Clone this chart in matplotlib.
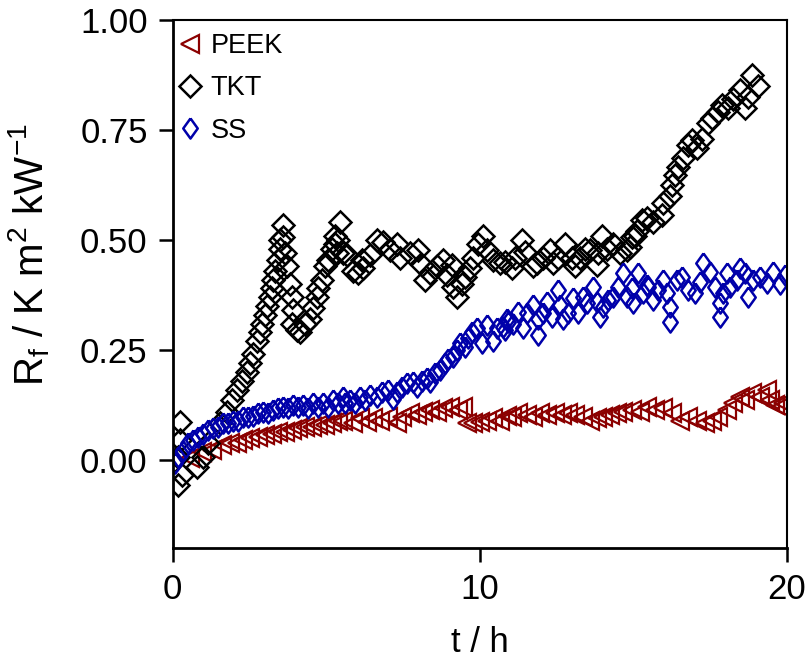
import matplotlib
matplotlib.use("Agg")
import matplotlib.pyplot as plt

plt.rcParams['font.family'] = ['Liberation Sans', 'DejaVu Sans']
plt.rcParams['mathtext.fontset'] = 'custom'
plt.rcParams['mathtext.rm'] = 'Liberation Sans'
plt.rcParams['mathtext.it'] = 'Liberation Sans'
plt.rcParams['mathtext.default'] = 'regular'

# PEEK (left triangles)
peek_t = [0.55, 0.95, 1.27, 1.60, 1.86, 2.08, 2.28, 2.51, 2.77, 3.00,
          3.22, 3.42, 3.65, 3.88, 4.07, 4.30, 4.53, 4.72, 4.95, 5.18,
          5.37, 5.54, 5.86, 6.09, 6.32, 6.51, 6.74, 7.00, 7.30, 7.46,
          7.72, 7.95, 8.14, 8.37, 8.60, 8.79, 9.02, 9.28, 9.45, 9.58,
          9.77, 10.00, 10.23, 10.42, 10.65, 10.88, 11.04, 11.24, 11.53, 11.73,
          11.95, 12.18, 12.44, 12.67, 12.87, 13.09, 13.36, 13.58, 13.81, 14.01,
          14.23, 14.46, 14.66, 14.95, 15.21, 15.44, 15.70, 15.96, 16.25, 16.51,
          16.78, 17.07, 17.33, 17.56, 17.75, 18.05, 18.24, 18.47, 18.63, 18.86,
          19.12, 19.35, 19.45, 19.61, 19.77, 19.87]
peek_y = [0.005, 0.018, 0.023, 0.034, 0.040, 0.038, 0.045, 0.050, 0.052, 0.057,
          0.060, 0.064, 0.064, 0.068, 0.073, 0.075, 0.075, 0.080, 0.080, 0.084,
          0.090, 0.090, 0.084, 0.095, 0.086, 0.095, 0.090, 0.098, 0.084, 0.098,
          0.107, 0.102, 0.109, 0.114, 0.109, 0.118, 0.120, 0.114, 0.120, 0.084,
          0.084, 0.086, 0.090, 0.095, 0.090, 0.100, 0.098, 0.107, 0.102, 0.098,
          0.107, 0.102, 0.107, 0.102, 0.107, 0.102, 0.098, 0.090, 0.095, 0.098,
          0.102, 0.107, 0.109, 0.114, 0.110, 0.120, 0.114, 0.118, 0.107, 0.090,
          0.098, 0.090, 0.084, 0.090, 0.098, 0.114, 0.130, 0.143, 0.136, 0.152,
          0.143, 0.159, 0.136, 0.125, 0.120, 0.130]

# TKT (diamonds)
tkt_t = [0.16, 0.29, 0.23, 0.16, 0.23, 0.78, 0.98, 1.14, 1.53, 1.76,
         1.92, 2.08, 2.25, 2.41, 2.51, 2.61, 2.74, 2.83, 2.90, 3.00,
         3.06, 3.16, 3.22, 3.26, 3.32, 3.42, 3.49, 3.49, 3.58, 3.58,
         3.65, 3.71, 3.81, 3.88, 3.91, 3.88, 4.04, 4.14, 4.30, 4.46,
         4.56, 4.69, 4.72, 4.85, 4.95, 5.05, 5.18, 5.28, 5.44, 5.37,
         5.54, 5.28, 5.34, 5.67, 5.86, 6.03, 6.19, 6.16, 6.42, 6.64,
         6.84, 7.07, 7.30, 7.39, 7.72, 7.98, 8.11, 8.21, 8.37, 8.60,
         8.79, 8.93, 9.09, 9.12, 9.25, 9.41, 9.51, 9.67, 9.77, 9.93,
         10.10, 10.23, 10.42, 10.65, 10.81, 11.04, 11.14, 11.37, 11.47, 11.73,
         11.86, 12.05, 12.28, 12.38, 12.54, 12.77, 13.00, 13.09, 13.26, 13.42,
         13.58, 13.81, 13.84, 13.97, 14.14, 14.33, 14.56, 14.79, 14.89, 14.95,
         15.05, 15.11, 15.28, 15.44, 15.64, 15.93, 15.96, 16.19, 16.25, 16.35,
         16.45, 16.61, 16.78, 16.91, 17.07, 17.23, 17.43, 17.56, 17.75, 17.88,
         18.08, 18.24, 18.47, 18.63, 18.73, 18.86, 19.05]
tkt_y = [-0.057, -0.034, 0.045, 0.007, 0.086, -0.016, 0.007, 0.040, 0.084, 0.110,
         0.136, 0.160, 0.180, 0.200, 0.220, 0.240, 0.270, 0.290, 0.310, 0.330,
         0.350, 0.370, 0.390, 0.410, 0.430, 0.455, 0.480, 0.500, 0.534, 0.507,
         0.470, 0.440, 0.400, 0.370, 0.340, 0.310, 0.295, 0.290, 0.310, 0.320,
         0.345, 0.370, 0.390, 0.410, 0.440, 0.455, 0.480, 0.490, 0.540, 0.500,
         0.470, 0.510, 0.470, 0.466, 0.430, 0.425, 0.436, 0.455, 0.466, 0.500,
         0.495, 0.477, 0.490, 0.460, 0.470, 0.477, 0.443, 0.410, 0.425, 0.440,
         0.455, 0.420, 0.443, 0.393, 0.370, 0.400, 0.416, 0.436, 0.460, 0.490,
         0.510, 0.477, 0.455, 0.447, 0.450, 0.436, 0.460, 0.500, 0.473, 0.440,
         0.447, 0.460, 0.477, 0.447, 0.460, 0.490, 0.460, 0.440, 0.460, 0.480,
         0.477, 0.443, 0.470, 0.510, 0.480, 0.490, 0.470, 0.477, 0.484, 0.507,
         0.510, 0.520, 0.545, 0.550, 0.540, 0.556, 0.584, 0.600, 0.625, 0.648,
         0.666, 0.686, 0.716, 0.727, 0.709, 0.730, 0.766, 0.777, 0.790, 0.807,
         0.800, 0.820, 0.840, 0.800, 0.825, 0.875, 0.850]

# SS (thin diamonds)
ss_t = [0.07, 0.16, 0.33, 0.49, 0.65, 0.81, 0.98, 1.14, 1.30, 1.47,
        1.63, 1.79, 1.95, 2.12, 2.28, 2.44, 2.61, 2.77, 2.93, 3.09,
        3.26, 3.42, 3.58, 3.75, 3.91, 4.07, 4.23, 4.40, 4.56, 4.72,
        4.89, 5.05, 5.21, 5.37, 5.54, 5.60, 5.77, 5.93, 6.09, 6.25,
        6.42, 6.64, 6.81, 7.00, 7.17, 7.30, 7.46, 7.62, 7.82, 7.95,
        8.11, 8.27, 8.37, 8.53, 8.70, 8.86, 8.96, 9.12, 9.25, 9.35,
        9.51, 9.61, 9.74, 9.90, 10.07, 10.23, 10.42, 10.55, 10.75, 10.88,
        10.81, 10.91, 11.07, 11.24, 11.40, 11.53, 11.73, 11.89, 11.89, 12.05,
        12.18, 12.35, 12.54, 12.61, 12.70, 12.87, 13.03, 13.19, 13.36, 13.49,
        13.68, 13.81, 13.91, 14.01, 14.17, 14.33, 14.50, 14.66, 14.79, 14.95,
        15.15, 15.31, 15.44, 14.98, 15.47, 15.64, 15.80, 15.96, 16.09, 16.19,
        16.19, 16.42, 16.58, 16.78, 17.00, 17.17, 17.26, 17.49, 17.65, 17.82,
        17.82, 17.92, 18.05, 18.14, 18.37, 18.47, 18.63, 18.73, 18.89, 19.12,
        19.35, 19.54, 19.77, 19.93]
ss_y = [-0.007, 0.007, 0.020, 0.040, 0.045, 0.052, 0.060, 0.068, 0.073, 0.075,
        0.084, 0.084, 0.090, 0.090, 0.098, 0.098, 0.100, 0.107, 0.110, 0.107,
        0.114, 0.118, 0.120, 0.118, 0.125, 0.120, 0.125, 0.118, 0.130, 0.120,
        0.130, 0.120, 0.136, 0.130, 0.143, 0.130, 0.136, 0.130, 0.143, 0.136,
        0.148, 0.143, 0.155, 0.160, 0.140, 0.155, 0.166, 0.175, 0.177, 0.166,
        0.180, 0.186, 0.177, 0.198, 0.205, 0.220, 0.230, 0.234, 0.250, 0.266,
        0.257, 0.277, 0.290, 0.300, 0.266, 0.307, 0.270, 0.300, 0.302, 0.320,
        0.295, 0.314, 0.310, 0.336, 0.300, 0.334, 0.352, 0.320, 0.284, 0.334,
        0.360, 0.325, 0.386, 0.352, 0.320, 0.334, 0.368, 0.334, 0.370, 0.357,
        0.393, 0.360, 0.325, 0.348, 0.364, 0.370, 0.393, 0.425, 0.370, 0.390,
        0.425, 0.380, 0.398, 0.357, 0.393, 0.364, 0.386, 0.410, 0.380, 0.348,
        0.314, 0.410, 0.416, 0.386, 0.380, 0.405, 0.448, 0.427, 0.393, 0.357,
        0.325, 0.380, 0.425, 0.393, 0.410, 0.436, 0.425, 0.370, 0.410, 0.416,
        0.402, 0.427, 0.400, 0.420]

# diamond a bit narrower than tall, like the blue marks in the original
thin_diamond = [(0, 1), (0.72, 0), (0, -1), (-0.72, 0), (0, 1)]

fig = plt.figure(figsize=(8.07, 6.59), dpi=100)
ax = fig.add_axes([0.214, 0.168, 0.761, 0.802])

ax.plot(peek_t, peek_y, ls='none', marker='<', ms=12.5, mfc='none', mec='#8b0000', mew=1.6,
        label='PEEK')
ax.plot(tkt_t, tkt_y, ls='none', marker='D', ms=11, mfc='none', mec='black', mew=1.8,
        label='TKT')
ax.plot(ss_t, ss_y, ls='none', marker=thin_diamond, ms=14.5, mfc='none', mec='#0000aa',
        mew=1.8, label='SS')

ax.set_xlim(0, 20)
ax.set_ylim(-0.2, 1.0)
ax.set_xticks([0, 10, 20])
ax.set_yticks([0, 0.25, 0.5, 0.75, 1.0])
ax.set_yticklabels(['0.00', '0.25', '0.50', '0.75', '1.00'])
ax.tick_params(axis='both', direction='out', length=10, width=1.8, labelsize=25, pad=8)
ax.tick_params(top=False, right=False)
for side in ['left', 'bottom']:
    ax.spines[side].set_linewidth(2.0)
for side in ['top', 'right']:
    ax.spines[side].set_linewidth(1.5)

ax.set_xlabel('t / h', fontsize=25, labelpad=14)
ax.set_ylabel('R$_f$ / K m$^2$ kW$^{-1}$', fontsize=29)
ax.yaxis.set_label_coords(-0.197, 0.555)

ax.legend(loc='upper left', bbox_to_anchor=(0.0, 0.985), frameon=False, fontsize=19.5,
          handletextpad=0.3, handlelength=0.9, borderaxespad=0.0, labelspacing=0.6,
          borderpad=0.2)

fig.savefig('out.png', dpi=100)
